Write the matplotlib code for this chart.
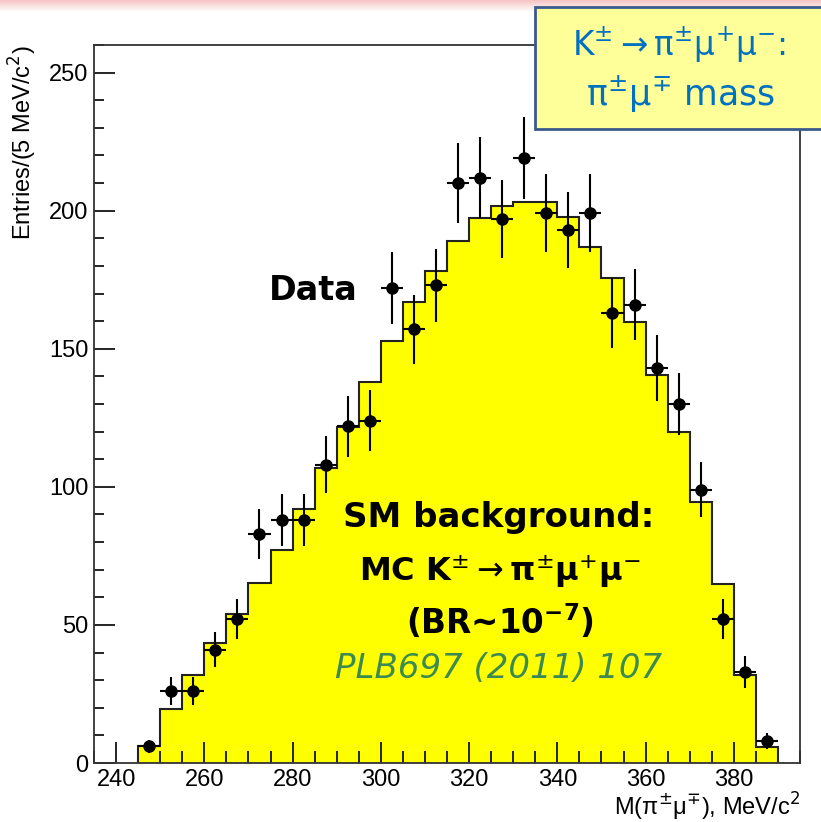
import numpy as np
import matplotlib
matplotlib.use('Agg')
import matplotlib.pyplot as plt
from matplotlib.patches import Rectangle

# Datos: histograma MC y puntos medidos (bins de 5 MeV/c2)
edges = np.arange(245, 391, 5)
mc_counts = [6, 19.4, 32, 43.4, 54, 65.3, 77, 92, 106.7, 121.8, 137.8,
             152.9, 166.9, 178.3, 189.1, 197.3, 201.6, 203.1, 203, 197.7,
             186.7, 175.6, 159.8, 140.6, 119.8, 94.4, 64.9, 32, 5.9]
data_x = edges[:-1] + 2.5
data_y = [6, 26, 26, 41, 52, 83, 88, 88, 108, 122, 124, 172, 157, 173,
          210, 212, 197, 219, 199, 193, 199, 163, 166, 143, 130, 99, 52,
          33, 8]

x_ticks = [240, 260, 280, 300, 320, 340, 360, 380]
y_ticks = [0, 50, 100, 150, 200, 250]

plt.rcParams['font.family'] = ['Liberation Sans', 'DejaVu Sans']
plt.rcParams['mathtext.fontset'] = 'custom'
plt.rcParams['mathtext.rm'] = 'DejaVu Sans'
plt.rcParams['mathtext.it'] = 'DejaVu Sans:italic'
plt.rcParams['mathtext.bf'] = 'DejaVu Sans:bold'

fig = plt.figure(figsize=(8.21, 8.22), dpi=100)
ax = fig.add_axes([94 / 821, 1 - 763 / 822, 706 / 821, 718 / 822])

# histograma MC en amarillo
ax.stairs(mc_counts, edges, fill=True, color='#ffff00', zorder=1)
ax.stairs(mc_counts, edges, baseline=0, color='#222222', lw=1.5, zorder=2)

# puntos de datos con barras de error
ax.errorbar(data_x, data_y, xerr=2.5, yerr=np.sqrt(data_y), fmt='o',
            color='black', ms=8, elinewidth=1.5, capsize=0, zorder=3)

ax.set_xlim(235, 395)
ax.set_ylim(0, 260)
ax.set_xticks(x_ticks)
ax.set_yticks(y_ticks)
ax.set_xticks(np.arange(235, 396, 5), minor=True)
ax.set_yticks(np.arange(0, 261, 10), minor=True)
ax.tick_params(which='both', direction='in', top=False, right=False,
               labelsize=17, width=1.2)
ax.tick_params(which='major', length=15, pad=4)
ax.tick_params(axis='x', which='minor', length=8.5)
ax.tick_params(axis='y', which='minor', length=7)
for s in ax.spines.values():
    s.set_linewidth(1.3)
    s.set_color('#333333')

ax.set_ylabel('Entries/(5 MeV/c$^{2}$)', fontsize=17, loc='top')
ax.yaxis.set_label_coords(-0.078, 1.0)
ax.set_xlabel('M(π$^{\\pm}$μ$^{\\mp}$), MeV/c$^{2}$', fontsize=17, loc='right')
ax.xaxis.set_label_coords(1.0, -0.039)

# textos del slide
kw = dict(fontfamily='DejaVu Sans', fontweight='bold', ha='center',
          va='center', transform=fig.transFigure, zorder=5)
fig.text(313 / 821, 1 - 290 / 822, 'Data', fontsize=24, **kw)
fig.text(499 / 821, 1 - 518 / 822, 'SM background:', fontsize=24.5, **kw)
fig.text(500 / 821, 1 - 571 / 822,
         r'MC K$^{\pm}$$\rightarrow$π$^{\pm}$μ$^{+}$μ$^{-}$', fontsize=23, **kw)
fig.text(500 / 821, 1 - 622 / 822, r'(BR~10$^{\mathbf{-7}}$)', fontsize=23.5, **kw)
fig.text(499 / 821, 1 - 668 / 822, 'PLB697 (2011) 107', fontsize=24.5,
         fontfamily='DejaVu Sans', style='italic', color='#3c8a50',
         ha='center', va='center', transform=fig.transFigure, zorder=5)

# recuadro azul arriba a la derecha
fig.patches.append(Rectangle((535 / 821, 1 - 129 / 822), 0.4, 122 / 822,
                             transform=fig.transFigure, facecolor='#ffff99',
                             edgecolor='#3a5a8c', lw=2, zorder=4))
fig.text(679 / 821, 1 - 45 / 822,
         r'K$^{\pm}$$\rightarrow$π$^{\pm}$μ$^{+}$μ$^{-}$:', fontsize=23.5,
         fontfamily='DejaVu Sans', color='#0070c0', ha='center', va='center',
         zorder=6)
fig.text(681 / 821, 1 - 94 / 822, r'π$^{\pm}$μ$^{\mp}$ mass', fontsize=25,
         fontfamily='DejaVu Sans', color='#0070c0', ha='center', va='center',
         zorder=6)

# franja rosada del slide arriba
band = fig.add_axes([0, 1 - 12 / 822, 1, 12 / 822], zorder=-1)
grad = np.linspace(0, 1, 50).reshape(-1, 1)
band.imshow(grad, aspect='auto', cmap=matplotlib.colors.LinearSegmentedColormap.from_list(
    'pk', ['#f6c4c4', '#ffffff']), extent=[0, 1, 0, 1])
band.axis('off')

fig.savefig('out.png', dpi=100)
